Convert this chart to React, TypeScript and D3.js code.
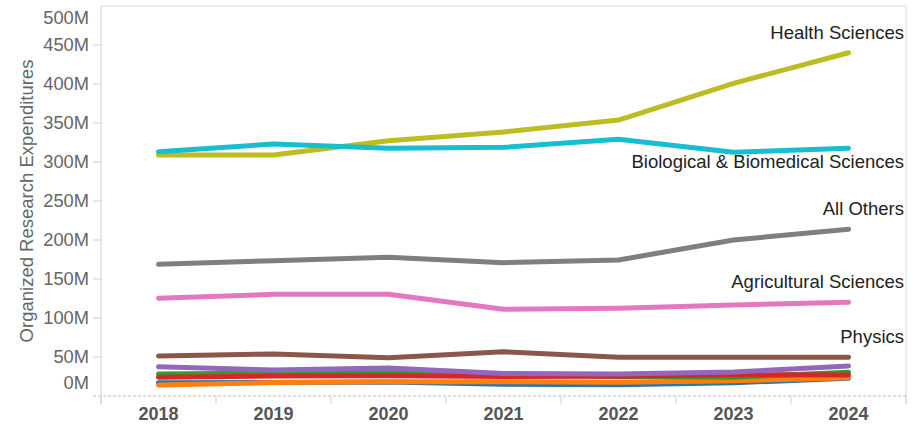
import React from "react";
import * as d3 from "d3";

const years = ["2018", "2019", "2020", "2021", "2022", "2023", "2024"];

const seriesNames = [
  "Engineering",
  "Computer & Information Sciences",
  "Chemistry",
  "Geosciences",
  "Mathematics & Statistics",
  "Physics",
  "Agricultural Sciences",
  "All Others",
  "Health Sciences",
  "Biological & Biomedical Sciences",
];

const seriesColors = [
  "#1f77b4",
  "#ff7f0e",
  "#2ca02c",
  "#d62728",
  "#9467bd",
  "#8c564b",
  "#e377c2",
  "#7f7f7f",
  "#bcbd22",
  "#17becf",
];

// values in millions
const engineering = [17.1, 17.3, 18.0, 15.0, 14.5, 17.0, 22.7];
const computer = [14.1, 17.3, 18.3, 18.3, 17.6, 19.6, 23.5];
const chemistry = [28.2, 29.5, 29.9, 28.2, 25.0, 24.0, 30.4];
const geosciences = [24.0, 25.6, 26.0, 25.0, 25.3, 27.3, 27.0];
const mathematics = [37.6, 33.3, 35.9, 28.8, 28.2, 30.8, 38.5];
const physics = [51.3, 53.8, 49.1, 56.8, 49.6, 49.6, 49.6];
const agricultural = [125.3, 130.4, 130.4, 111.2, 112.4, 116.7, 120.1];
const allOthers = [168.8, 173.5, 177.8, 170.9, 174.4, 200.0, 213.7];
const health = [309.0, 309.0, 327.3, 338.5, 353.8, 400.9, 440.1];
const biological = [313.2, 323.1, 317.6, 318.8, 329.1, 312.4, 317.6];

const seriesValues = [
  engineering,
  computer,
  chemistry,
  geosciences,
  mathematics,
  physics,
  agricultural,
  allOthers,
  health,
  biological,
];

const labelledSeries = [
  "Health Sciences",
  "Biological & Biomedical Sciences",
  "All Others",
  "Agricultural Sciences",
  "Physics",
];
const labelBelow = ["Biological & Biomedical Sciences"];

const yTicks = [0, 50, 100, 150, 200, 250, 300, 350, 400, 450, 500];
const yTitle = "Organized Research Expenditures";

const W = 923;
const H = 426;
const left = 101;
const right = 906;
const top = 6;
const bottom = 396;
const FONT = "'Liberation Sans', Arial, Helvetica, sans-serif";

export default function App() {
  const x = d3.scaleBand<string>().domain(years).range([left, right]);
  const cx = (yr: string) => (x(yr) as number) + x.bandwidth() / 2;
  const y = d3.scaleLinear().domain([0, 500]).range([bottom, top]);

  const line = d3
    .line<number>()
    .x((_, i) => cx(years[i]))
    .y((v) => y(v));

  const boundaries = years.map((yr) => x(yr) as number).concat([right]);

  return (
    <svg
      width={W}
      height={H}
      style={{ position: "absolute", left: 0, top: 0, background: "#fff" }}
      fontFamily={FONT}
    >
      {/* frame */}
      <line x1={left} x2={right} y1={top} y2={top} stroke="#dcdcdc" strokeWidth={1} />
      <line x1={right} x2={right} y1={top} y2={bottom + 8} stroke="#dcdcdc" strokeWidth={1} />
      <line x1={left} x2={left} y1={top} y2={bottom + 8} stroke="#cfcfcf" strokeWidth={1} />
      {/* x axis dashed */}
      <line
        x1={left - 8}
        x2={right}
        y1={bottom}
        y2={bottom}
        stroke="#bdbdbd"
        strokeWidth={1}
        strokeDasharray="3,2"
      />
      {boundaries.map((bx, i) => (
        <line key={"b" + i} x1={bx} x2={bx} y1={bottom} y2={bottom + 8} stroke="#cfcfcf" strokeWidth={1} />
      ))}
      {/* y ticks */}
      {yTicks.map((t) => {
        const ty = y(t);
        const ly = Math.min(Math.max(ty, top + 12), bottom - 13);
        return (
          <g key={"yt" + t}>
            {t !== 500 && t !== 0 && (
              <line x1={left - 8} x2={left} y1={ty} y2={ty} stroke="#cfcfcf" strokeWidth={1} />
            )}
            <text
              x={89}
              y={ly}
              dy="0.35em"
              textAnchor="end"
              fontSize={18.3}
              fill="#666"
            >
              {t + "M"}
            </text>
          </g>
        );
      })}
      {/* y title */}
      <text
        transform={`translate(33, ${(top + bottom) / 2}) rotate(-90)`}
        textAnchor="middle"
        fontSize={18.5}
        fill="#666"
      >
        {yTitle}
      </text>
      {/* x labels */}
      {years.map((yr) => (
        <text
          key={"xl" + yr}
          x={cx(yr)}
          y={419.5}
          textAnchor="middle"
          fontSize={18}
          fontWeight="bold"
          fill="#555"
        >
          {yr}
        </text>
      ))}
      {/* lines */}
      {seriesValues.map((vals, i) => (
        <path
          key={"s" + i}
          d={line(vals) as string}
          fill="none"
          stroke={seriesColors[i]}
          strokeWidth={5}
          strokeLinecap="round"
          strokeLinejoin="round"
        />
      ))}
      {/* labels */}
      {labelledSeries.map((name) => {
        const idx = seriesNames.indexOf(name);
        const vals = seriesValues[idx];
        const endY = y(vals[vals.length - 1]);
        const below = labelBelow.includes(name);
        return (
          <text
            key={"lab" + name}
            x={904}
            y={below ? endY + 20 : endY - 14}
            textAnchor="end"
            fontSize={18.5}
            fill="#222"
          >
            {name}
          </text>
        );
      })}
    </svg>
  );
}
